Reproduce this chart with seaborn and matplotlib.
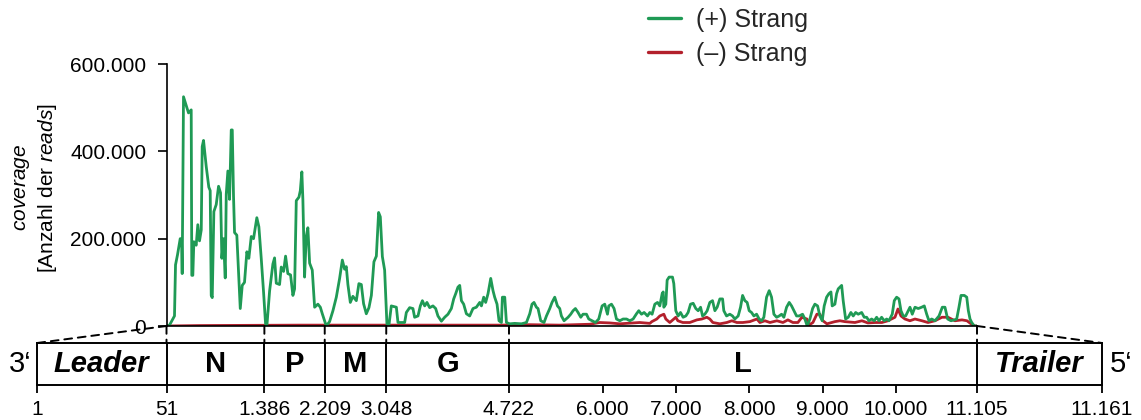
import numpy as np
import pandas as pd
import matplotlib
matplotlib.use("Agg")
import matplotlib.pyplot as plt
import seaborn as sns
from matplotlib.patches import ConnectionPatch
from matplotlib.lines import Line2D
from matplotlib.ticker import FuncFormatter, FixedLocator

# ---------------- data ----------------
plus_pos = [51, 92, 160, 174, 201, 238, 256, 265, 283, 320, 351, 388, 396, 410, 424, 456, 478, 501, 525, 538,
            556, 593, 628, 647, 661, 675, 697, 729, 761, 788, 806, 829, 852, 866, 888, 911, 934, 948, 965, 979,
            1010, 1034, 1057, 1084, 1115, 1147, 1174, 1207, 1238, 1283, 1311, 1343, 1375, 1402, 1420, 1457,
            1502, 1525, 1548, 1593, 1616, 1648, 1675, 1706, 1743, 1775, 1798, 1821, 1857, 1876, 1897, 1911,
            1934, 1957, 1979, 2003, 2039, 2071, 2116, 2149, 2176, 2230, 2275, 2321, 2367, 2412, 2449, 2480,
            2503, 2525, 2558, 2593, 2640, 2675, 2708, 2739, 2776, 2812, 2845, 2880, 2913, 2944, 2967, 2995,
            3026, 3040, 3057, 3085, 3117, 3186, 3208, 3299, 3322, 3367, 3412, 3435, 3481, 3513, 3541, 3572,
            3603, 3640, 3685, 3722, 3753, 3800, 3845, 3890, 3936, 3968, 3995, 4026, 4050, 4073, 4104, 4141,
            4186, 4231, 4277, 4323, 4346, 4377, 4404, 4436, 4473, 4504, 4527, 4559, 4586, 4619, 4632, 4664,
            4687, 4732, 4800, 4892, 4960, 5005, 5036, 5063, 5096, 5118, 5155, 5200, 5233, 5278, 5309, 5346,
            5383, 5414, 5437, 5473, 5528, 5564, 5596, 5628, 5664, 5701, 5732, 5779, 5810, 5855, 5901, 5946,
            5992, 6028, 6065, 6083, 6120, 6155, 6188, 6233, 6278, 6325, 6370, 6415, 6461, 6492, 6529, 6565,
            6611, 6643, 6674, 6711, 6748, 6779, 6811, 6825, 6834, 6861, 6879, 6906, 6952, 6970, 6997, 7029,
            7061, 7097, 7134, 7165, 7198, 7234, 7270, 7302, 7335, 7362, 7393, 7425, 7461, 7498, 7530, 7561,
            7598, 7635, 7652, 7689, 7734, 7771, 7802, 7848, 7880, 7908, 7939, 7970, 7998, 8030, 8062, 8099,
            8134, 8167, 8198, 8235, 8271, 8303, 8335, 8372, 8407, 8440, 8471, 8508, 8544, 8576, 8608, 8644,
            8680, 8726, 8758, 8789, 8826, 8863, 8894, 8931, 8962, 8994, 9021, 9054, 9085, 9113, 9130, 9167,
            9190, 9212, 9259, 9280, 9313, 9349, 9385, 9417, 9450, 9485, 9532, 9567, 9600, 9631, 9668, 9704,
            9736, 9768, 9804, 9840, 9873, 9904, 9949, 9977, 10009, 10041, 10068, 10099, 10132, 10168, 10191,
            10222, 10259, 10304, 10350, 10386, 10419, 10450, 10487, 10532, 10587, 10632, 10668, 10705, 10750,
            10796, 10828, 10859, 10887, 10932, 10965, 10987, 11010, 11033, 11068, 11105]
plus_cov = [0, 2000, 23000, 140000, 163000, 200000, 200000, 120000, 525000, 505000, 488000, 495000, 116000,
            116000, 193000, 185000, 232000, 195000, 220000, 411000, 425000, 365000, 318000, 310000, 70000,
            65000, 262000, 278000, 320000, 305000, 155000, 200000, 110000, 302000, 355000, 290000, 449000,
            449000, 297000, 214000, 208000, 123000, 40000, 93000, 100000, 170000, 155000, 205000, 200000,
            248000, 227000, 155000, 77000, 5000, 0, 80000, 142000, 156000, 98000, 95000, 135000, 125000,
            160000, 120000, 117000, 70000, 85000, 287000, 295000, 310000, 353000, 290000, 112000, 205000,
            225000, 144000, 128000, 43000, 50000, 43000, 28000, 0, 10000, 35000, 66000, 109000, 151000,
            130000, 136000, 95000, 54000, 68000, 58000, 97000, 95000, 51000, 28000, 42000, 70000, 147000,
            160000, 260000, 250000, 159000, 128000, 74000, 5000, 2000, 46000, 43000, 8000, 8000, 31000,
            42000, 40000, 20000, 23000, 46000, 58000, 46000, 54000, 42000, 46000, 40000, 23000, 11000,
            20000, 27000, 40000, 62000, 74000, 89000, 93000, 58000, 50000, 28000, 23000, 40000, 43000,
            54000, 46000, 66000, 54000, 74000, 109000, 81000, 66000, 50000, 12000, 8000, 66000, 66000,
            8000, 5000, 6000, 5000, 8000, 28000, 50000, 54000, 43000, 40000, 12000, 8000, 23000, 40000,
            54000, 66000, 46000, 40000, 23000, 12000, 20000, 27000, 35000, 40000, 31000, 20000, 27000,
            27000, 16000, 12000, 8000, 16000, 46000, 50000, 27000, 46000, 50000, 40000, 16000, 12000,
            16000, 16000, 12000, 16000, 28000, 35000, 27000, 31000, 23000, 31000, 27000, 50000, 54000,
            46000, 74000, 78000, 43000, 50000, 105000, 112000, 112000, 97000, 35000, 23000, 31000, 20000,
            23000, 31000, 50000, 52000, 40000, 35000, 43000, 23000, 27000, 35000, 54000, 58000, 35000,
            43000, 62000, 62000, 35000, 23000, 27000, 23000, 16000, 23000, 43000, 70000, 58000, 54000,
            35000, 31000, 23000, 27000, 16000, 12000, 20000, 66000, 81000, 66000, 27000, 20000, 23000,
            27000, 20000, 43000, 54000, 46000, 35000, 23000, 23000, 27000, 16000, 0, 16000, 40000, 50000,
            46000, 23000, 12000, 46000, 66000, 74000, 78000, 46000, 50000, 74000, 85000, 93000, 58000,
            16000, 20000, 31000, 23000, 31000, 27000, 31000, 20000, 20000, 12000, 16000, 12000, 20000,
            12000, 20000, 12000, 16000, 12000, 27000, 58000, 66000, 62000, 35000, 23000, 23000, 35000,
            43000, 27000, 43000, 40000, 43000, 46000, 27000, 12000, 16000, 12000, 23000, 43000, 43000,
            16000, 12000, 14000, 16000, 43000, 70000, 70000, 66000, 35000, 16000, 8000, 0, 0]

minus_pos = [51, 501, 1866, 3231, 4596, 5005, 5414, 5824, 5960, 6097, 6233, 6506, 6643, 6670, 6738, 6779,
             6834, 6861, 6915, 6970, 6997, 7025, 7093, 7188, 7284, 7352, 7420, 7461, 7502, 7598, 7693, 7762,
             7830, 7912, 8007, 8103, 8144, 8212, 8281, 8376, 8458, 8526, 8594, 8662, 8717, 8785, 8812, 8867,
             8921, 8962, 9003, 9058, 9167, 9235, 9303, 9440, 9535, 9617, 9713, 9808, 9890, 9986, 10027,
             10068, 10122, 10190, 10259, 10354, 10436, 10532, 10627, 10709, 10804, 10900, 10968, 11023,
             11077, 11105]
minus_cov = [0, 1000, 2000, 2000, 2000, 3000, 2000, 4000, 8000, 7000, 5000, 8000, 6000, 10000, 16000, 23000,
             27000, 16000, 8000, 16000, 20000, 12000, 8000, 8000, 14000, 16000, 20000, 16000, 8000, 5000,
             8000, 12000, 8000, 8000, 10000, 16000, 8000, 12000, 8000, 12000, 8000, 14000, 8000, 8000,
             20000, 16000, 2000, 8000, 27000, 27000, 12000, 5000, 10000, 12000, 10000, 8000, 12000, 7000,
             8000, 8000, 12000, 20000, 39000, 23000, 16000, 12000, 16000, 12000, 8000, 12000, 20000, 20000,
             12000, 14000, 12000, 5000, 0, 0]

strand_labels = ["(+) Strang", "(\u2013) Strang"]
segment_names = ["Leader", "N", "P", "M", "G", "L", "Trailer"]
segment_bounds = [1, 51, 1386, 2209, 3048, 4722, 11105, 11161]
genome_ticks = [1, 51, 1386, 2209, 3048, 4722, 6000, 7000, 8000, 9000, 10000, 11105, 11161]
y_ticks = [0, 200000, 400000, 600000]

# ---------------- style ----------------
sns.set_theme(style="white")
plt.rcParams["font.family"] = ["Liberation Sans", "DejaVu Sans"]
plt.rcParams["mathtext.fontset"] = "custom"
plt.rcParams["mathtext.rm"] = "Liberation Sans"
plt.rcParams["mathtext.it"] = "Liberation Sans:italic"

GREEN = "#1f9a55"
RED = "#b3202c"
palette = {strand_labels[0]: GREEN, strand_labels[1]: RED}

W, H = 1141, 420
fig = plt.figure(figsize=(W / 100, H / 100), dpi=100)

# layout in pixels
x_box_l, x_cov_l, x_cov_r, x_box_r = 37.0, 166.5, 977.0, 1102.0
y_cov_top, y_cov_bot = 64.0, 326.0
y_box_top, y_box_bot = 343.0, 385.0

ax = fig.add_axes([x_cov_l / W, 1 - y_cov_bot / H, (x_cov_r - x_cov_l) / W, (y_cov_bot - y_cov_top) / H])
axb = fig.add_axes([x_box_l / W, 1 - y_box_bot / H, (x_box_r - x_box_l) / W, (y_box_bot - y_box_top) / H])

df = pd.concat([
    pd.DataFrame({"pos": minus_pos, "cov": minus_cov, "strand": strand_labels[1]}),
    pd.DataFrame({"pos": plus_pos, "cov": plus_cov, "strand": strand_labels[0]}),
], ignore_index=True)

sns.lineplot(data=df, x="pos", y="cov", hue="strand", hue_order=[strand_labels[1], strand_labels[0]],
             palette=palette, estimator=None, sort=False, linewidth=2.0, legend=False, ax=ax)

ax.set_xlim(segment_bounds[1], segment_bounds[-2])
ax.set_ylim(0, 600000)
ax.set_xticks([])
ax.set_xlabel("")
ax.yaxis.set_major_locator(FixedLocator(y_ticks))
dot_fmt = FuncFormatter(lambda v, p: f"{int(round(v)):,}".replace(",", "."))
ax.yaxis.set_major_formatter(dot_fmt)
ax.tick_params(axis="y", which="major", direction="out", length=6.5, width=1.2, pad=8,
               labelsize=15, colors="black", left=True)
for s in ["top", "right"]:
    ax.spines[s].set_visible(False)
for s in ["left", "bottom"]:
    ax.spines[s].set_color("black")
    ax.spines[s].set_linewidth(1.2)
ax.set_facecolor("none")
ax.set_ylabel("$\\it{coverage}$\n[Anzahl der $\\it{reads}$]", fontsize=15, color="black")
ax.yaxis.set_label_coords(-0.133, 0.527)

# genome map axis with piecewise scale
gx = np.array([segment_bounds[0], segment_bounds[1], segment_bounds[-2], segment_bounds[-1]], float)
pxs = np.array([x_box_l, x_cov_l, x_cov_r, x_box_r])


def fwd(v):
    return np.interp(v, gx, pxs)


def inv(p):
    return np.interp(p, pxs, gx)


axb.set_xscale("function", functions=(fwd, inv))
axb.set_xlim(segment_bounds[0], segment_bounds[-1])
axb.set_ylim(0, 1)
axb.set_yticks([])
axb.xaxis.set_major_locator(FixedLocator(genome_ticks))
axb.xaxis.set_minor_locator(FixedLocator([]))
axb.xaxis.set_major_formatter(dot_fmt)
axb.tick_params(axis="x", which="major", direction="out", length=6, width=1.3, pad=5,
                labelsize=15, colors="black", bottom=True)
for s in axb.spines.values():
    s.set_visible(True)
    s.set_color("black")
    s.set_linewidth(1.4)
axb.vlines(segment_bounds[1:-1], 0, 1, colors="black", linewidth=1.4)
for i, name in enumerate(segment_names):
    a, b = segment_bounds[i], segment_bounds[i + 1]
    c = inv((fwd(a) + fwd(b)) / 2)
    italic = name in ("Leader", "Trailer")
    axb.text(c, 0.5, name, ha="center", va="center", fontsize=21, fontweight="bold",
             fontstyle="italic" if italic else "normal", color="black")
axb.text(-0.005, 0.5, "3\u2018", transform=axb.transAxes, ha="right", va="center", fontsize=21, color="black")
axb.text(1.007, 0.5, "5\u2018", transform=axb.transAxes, ha="left", va="center", fontsize=21, color="black")

# dashed connectors between coverage plot and genome map
dash_kw = dict(color="black", linewidth=1.4, linestyle=(0, (4, 3)))
for b in segment_bounds[1:-1]:
    con = ConnectionPatch(xyA=(b, 0), coordsA=ax.transData, xyB=(b, 1),
                          coordsB=axb.get_xaxis_transform(), **dash_kw)
    fig.add_artist(con)
for top_b, box_b in [(segment_bounds[1], segment_bounds[0]), (segment_bounds[-2], segment_bounds[-1])]:
    con = ConnectionPatch(xyA=(top_b, 0), coordsA=ax.transData, xyB=(box_b, 1),
                          coordsB=axb.get_xaxis_transform(), **dash_kw)
    fig.add_artist(con)

# legend
handles = [Line2D([], [], color=GREEN, linewidth=2.4), Line2D([], [], color=RED, linewidth=2.4)]
fig.legend(handles, strand_labels, loc="upper left", bbox_to_anchor=(648 / W, 1 - 8 / H),
           frameon=False, fontsize=18, handlelength=1.3, handletextpad=0.62, labelspacing=0.38,
           borderpad=0, borderaxespad=0)

fig.savefig("out.png", dpi=100)
